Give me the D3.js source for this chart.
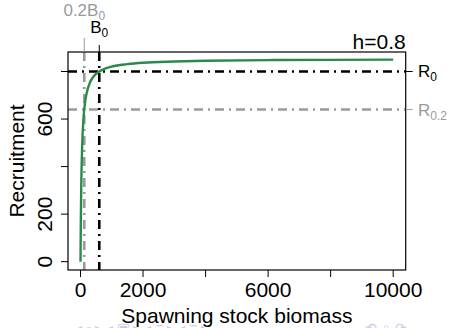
<!DOCTYPE html>
<html>
<head>
<meta charset="utf-8">
<script src="https://cdn.jsdelivr.net/npm/d3@7"></script>
<style>
  body { margin: 0; background: #fff; }
  svg { display: block; font-family: "Liberation Sans", Arial, sans-serif; }
</style>
</head>
<body>
<svg id="chart"></svg>
<script>
// curve points
var ssb = [0, 5, 10, 25, 50, 100, 150, 200, 300, 400, 600, 800, 1000, 1500, 2000, 3000, 4000, 6000, 8000, 10000]
var recruits = [0, 95, 171, 328, 474, 610, 674, 711, 753, 776, 800, 813, 821, 831, 837, 842, 845, 848, 849, 850]

var R0 = 800, R02 = 640
var B0 = 600, B02 = 120
var xTicks = [0, 2000, 4000, 6000, 8000, 10000]
var xLabels = [0, 2000, 6000, 10000]
var yTicks = [0, 200, 400, 600, 800]
var yLabels = [0, 200, 600]

width = 451
height = 328
var boxL = 68, boxR = 405.7, boxT = 52, boxB = 270

var svg = d3.select("#chart").attr("width", width).attr("height", height)

var x = d3.scaleLinear().domain([-400, 10400]).range([boxL, boxR])
var y = d3.scaleLinear().domain([-35, 882]).range([boxB, boxT])

var grey = "#9a9a9a"
var dash = "9,5,2,5"

// reference lines
svg.append("line")
    .attr("x1", boxL).attr("x2", boxR)
    .attr("y1", y(R0)).attr("y2", y(R0))
    .attr("stroke", "black").attr("stroke-width", 2.6).attr("stroke-dasharray", dash)
svg.append("line")
    .attr("x1", boxL).attr("x2", boxR)
    .attr("y1", y(R02)).attr("y2", y(R02))
    .attr("stroke", grey).attr("stroke-width", 2.6).attr("stroke-dasharray", dash)
svg.append("line")
    .attr("x1", x(B02)).attr("x2", x(B02))
    .attr("y1", boxT).attr("y2", boxB)
    .attr("stroke", grey).attr("stroke-width", 2.6).attr("stroke-dasharray", dash)
svg.append("line")
    .attr("x1", x(B0)).attr("x2", x(B0))
    .attr("y1", boxT).attr("y2", boxB)
    .attr("stroke", "black").attr("stroke-width", 2.6).attr("stroke-dasharray", dash)

// the curve
var line = d3.line()
    .x((d, i) => x(ssb[i]))
    .y(d => y(d))
    .curve(d3.curveMonotoneX)
svg.append("path")
    .attr("d", line(recruits))
    .attr("fill", "none")
    .attr("stroke", "#2a8a4a")
    .attr("stroke-width", 2.4)

// box
svg.append("rect")
    .attr("x", boxL).attr("y", boxT)
    .attr("width", boxR - boxL).attr("height", boxB - boxT)
    .attr("fill", "none").attr("stroke", "black").attr("stroke-width", 1.2)

// bottom axis
var xAxis = svg.append("g")
xAxis.selectAll("line").data(xTicks).enter().append("line")
    .attr("x1", d => x(d)).attr("x2", d => x(d))
    .attr("y1", boxB).attr("y2", boxB + 7)
    .attr("stroke", "black")
xAxis.selectAll("text").data(xLabels).enter().append("text")
    .attr("x", d => x(d)).attr("y", 297)
    .attr("text-anchor", "middle")
    .attr("font-size", 21)
    .text(d => d)

// left axis
var yAxis = svg.append("g")
yAxis.selectAll("line").data(yTicks).enter().append("line")
    .attr("x1", boxL - 7).attr("x2", boxL)
    .attr("y1", d => y(d)).attr("y2", d => y(d))
    .attr("stroke", "black")
yAxis.selectAll("text").data(yLabels).enter().append("text")
    .attr("transform", d => "translate(52," + y(d) + ") rotate(-90)")
    .attr("text-anchor", "middle")
    .attr("font-size", 21)
    .text(d => d)

svg.append("text")
    .attr("transform", "translate(24," + (boxT + boxB) / 2 + ") rotate(-90)")
    .attr("text-anchor", "middle")
    .attr("font-size", 21)
    .text("Recruitment")
svg.append("text")
    .attr("x", (boxL + boxR) / 2).attr("y", 323)
    .attr("text-anchor", "middle")
    .attr("font-size", 21)
    .text("Spawning stock biomass")

// right ticks
svg.append("line").attr("x1", boxR).attr("x2", boxR + 7)
    .attr("y1", y(R0)).attr("y2", y(R0)).attr("stroke", "black")
svg.append("line").attr("x1", boxR).attr("x2", boxR + 7)
    .attr("y1", y(R02)).attr("y2", y(R02)).attr("stroke", grey)

var r0 = svg.append("text").attr("x", 418).attr("y", y(R0) + 6).attr("font-size", 17)
r0.append("tspan").text("R")
r0.append("tspan").attr("font-size", 12).attr("dy", 4).text("0")
var r02 = svg.append("text").attr("x", 418).attr("y", y(R02) + 6).attr("font-size", 17).attr("fill", grey)
r02.append("tspan").text("R")
r02.append("tspan").attr("font-size", 12).attr("dy", 4).text("0.2")

// top ticks
svg.append("line").attr("x1", x(B02)).attr("x2", x(B02))
    .attr("y1", 38).attr("y2", boxT).attr("stroke", grey)
svg.append("line").attr("x1", x(B0)).attr("x2", x(B0))
    .attr("y1", 45).attr("y2", boxT).attr("stroke", "black")

var b02 = svg.append("text").attr("x", x(B02)).attr("y", 16)
    .attr("text-anchor", "middle").attr("font-size", 17).attr("fill", grey)
b02.append("tspan").text("0.2B")
b02.append("tspan").attr("font-size", 12).attr("dy", 4).text("0")
var b0 = svg.append("text").attr("x", x(B0)).attr("y", 33)
    .attr("text-anchor", "middle").attr("font-size", 17)
b0.append("tspan").text("B")
b0.append("tspan").attr("font-size", 12).attr("dy", 4).text("0")

svg.append("text")
    .attr("x", boxR).attr("y", 49)
    .attr("text-anchor", "end")
    .attr("font-size", 21)
    .text("h=0.8")

// faint slide navigation symbols
svg.append("text").attr("x", 75).attr("y", 333).attr("font-size", 14).attr("fill", "#c9c9ea")
    .text("◂ ▫ ▸ ◂ ▣ ▸ ◂ ≡ ▸ ◂ ≡ ▸")
svg.append("text").attr("x", 365).attr("y", 333).attr("font-size", 14).attr("fill", "#c9c9ea")
    .text("⟲ ♀ ⟳")
</script>
</body>
</html>
